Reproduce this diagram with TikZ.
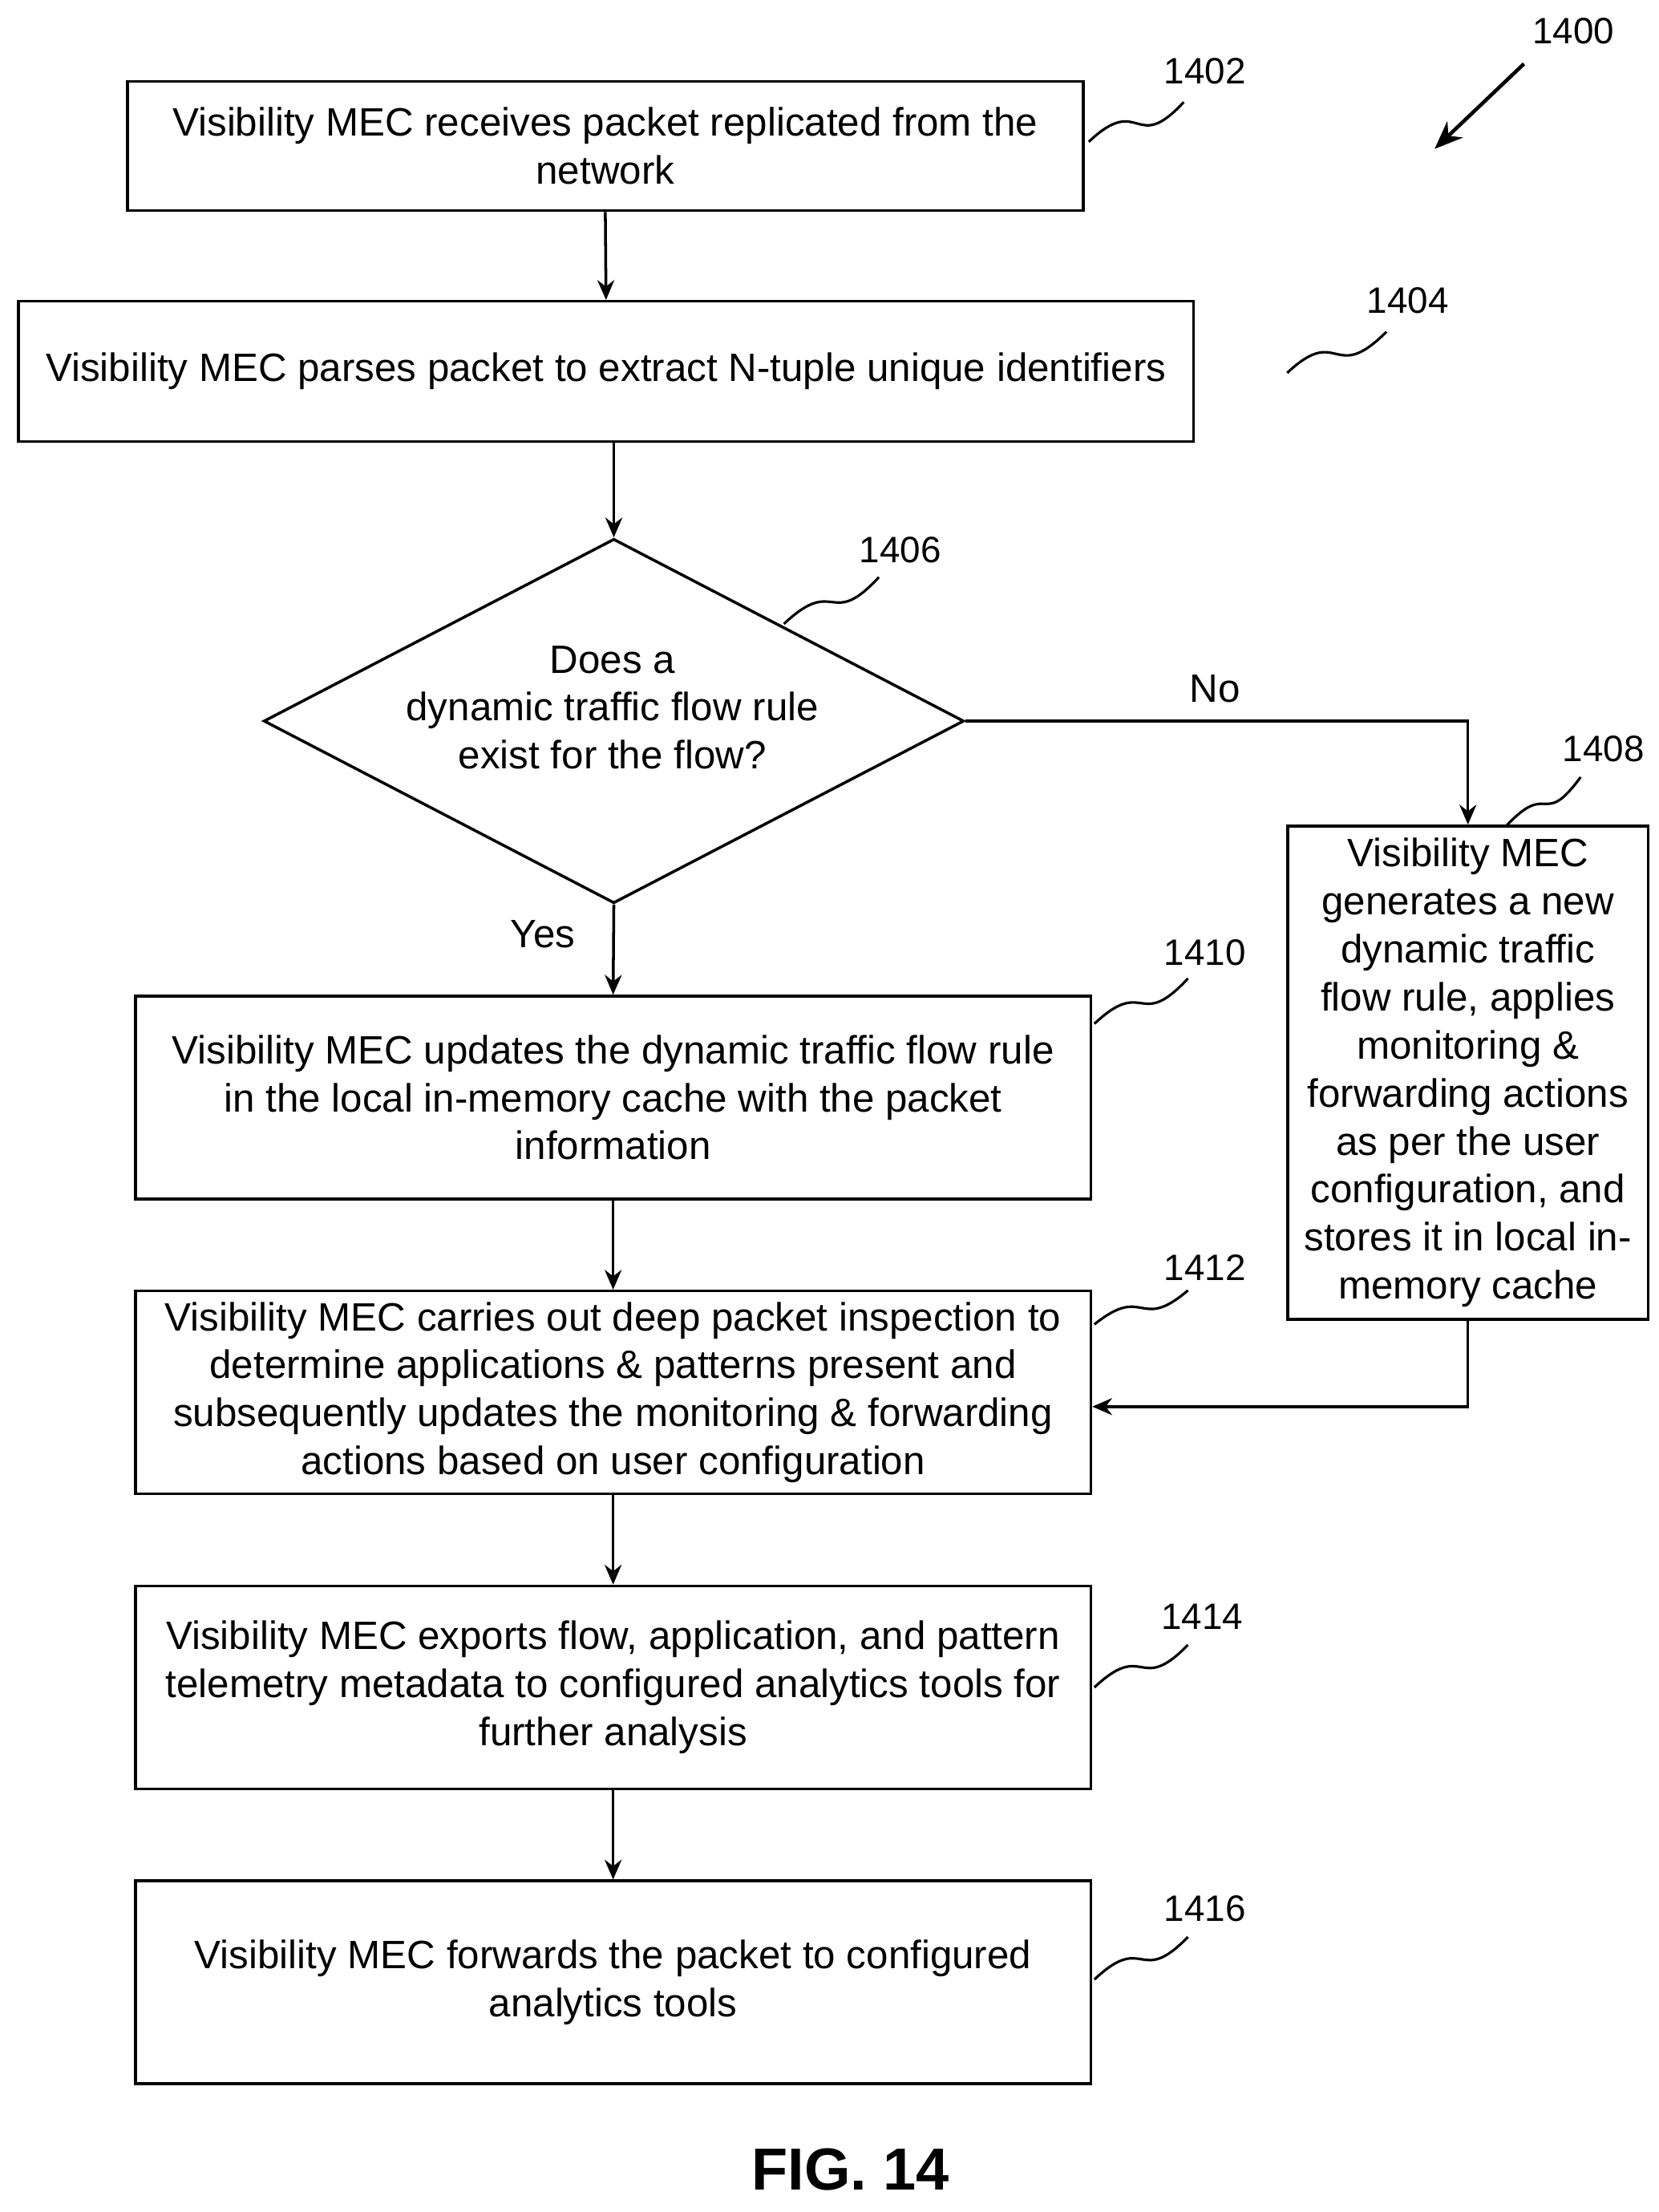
\documentclass[tikz,border=0pt]{standalone}
\usepackage{fontspec}
\setmainfont{Liberation Sans}
\usetikzlibrary{shapes.geometric,arrows.meta}
\begin{document}
\begin{tikzpicture}[x=0.5bp,y=-0.5bp,
  box/.style={draw,line width=1pt,rectangle,inner sep=0pt,align=center,font=\fontsize{14}{17}\selectfont},
  txt/.style={align=center,font=\fontsize{14}{17}\selectfont},
  ref/.style={font=\fontsize{13}{15}\selectfont},
  arr/.style={line width=1pt,-{Stealth[length=7pt,width=6pt]}},
  sq/.style={line width=0.9pt}]
\useasboundingbox (0,0) rectangle (1170,1560);
\node[box,minimum width=337bp,minimum height=45.5bp] (b1402) at (427,103) {Visibility MEC receives packet replicated from the\\network};
\node[box,minimum width=414.5bp,minimum height=49.5bp] (b1404) at (427.5,262) {Visibility MEC parses packet to extract N-tuple unique identifiers};
\node[draw,line width=1pt,diamond,aspect=1.92,inner sep=0pt,minimum width=247bp,minimum height=128.5bp] (d1406) at (433,508.5) {};
\node[txt] at (432,499) {Does a\\dynamic traffic flow rule\\exist for the flow?};
\node[box,minimum width=127bp,minimum height=174bp] (b1408) at (1035.5,756.5) {Visibility MEC\\generates a new\\dynamic traffic\\flow rule, applies\\monitoring \&\\forwarding actions\\as per the user\\configuration, and\\stores it in local in-\\memory cache};
\node[box,minimum width=337bp,minimum height=71.5bp] (b1410) at (432.5,774) {Visibility MEC updates the dynamic traffic flow rule\\in the local in-memory cache with the packet\\information};
\node[box,minimum width=337bp,minimum height=71.5bp] (b1412) at (432.5,982) {Visibility MEC carries out deep packet inspection to\\determine applications \& patterns present and\\subsequently updates the monitoring \& forwarding\\actions based on user configuration};
\node[box,minimum width=337bp,minimum height=71.5bp] (b1414) at (432.5,1190) {Visibility MEC exports flow, application, and pattern\\telemetry metadata to configured analytics tools for\\further analysis};
\node[box,minimum width=337bp,minimum height=71.5bp] (b1416) at (432.5,1398) {Visibility MEC forwards the packet to configured\\analytics tools};
\draw[arr] (b1402.south) -- (b1404.north);
\draw[arr] (d1406.north |- b1404.south) -- (d1406.north);
\draw[arr] (d1406.south) -- (b1410.north);
\draw[arr] (d1406.east) -| (b1408.north);
\draw[arr] (b1408.south) |- (b1412.east |- 0,992);
\draw[arr] (b1410.south) -- (b1412.north);
\draw[arr] (b1412.south) -- (b1414.north);
\draw[arr] (b1414.south) -- (b1416.north);
\node[txt] (no) at (857,486) {No};
\node[txt] (yes) at (383,659) {Yes};
\node[ref] (r1402) at (850,50) {1402};
\node[ref] (r1404) at (993,212) {1404};
\node[ref] (r1406) at (635,388) {1406};
\node[ref] (r1408) at (1131,528) {1408};
\node[ref] (r1410) at (850,672) {1410};
\node[ref] (r1412) at (850,894) {1412};
\node[ref] (r1414) at (848,1140) {1414};
\node[ref] (r1416) at (850,1346) {1416};
\node[ref] (r1400) at (1110,22) {1400};
\draw[sq] (768,100) .. controls (805,65) and (800,110) .. (835,72);
\draw[sq] (908,263) .. controls (945,228) and (940,272) .. (978,234);
\draw[sq] (553,440) .. controls (590,405) and (585,445) .. (620,407);
\draw[sq] (1063,582) .. controls (1093,550) and (1088,585) .. (1115,548);
\draw[sq] (772,722) .. controls (808,688) and (803,728) .. (838,690);
\draw[sq] (772,934) .. controls (808,905) and (803,940) .. (838,910);
\draw[sq] (772,1190) .. controls (808,1156) and (803,1196) .. (838,1160);
\draw[sq] (772,1396) .. controls (808,1362) and (803,1402) .. (838,1366);
\coordinate (a1) at (1075,45);
\coordinate (a2) at (1012,105);
\draw[line width=1.3pt,-{Stealth[length=10pt,width=8pt]}] (a1) -- (a2);
\node[font=\bfseries\fontsize{21}{24}\selectfont] (fig) at (600,1530) {FIG. 14};
\end{tikzpicture}
\end{document}
